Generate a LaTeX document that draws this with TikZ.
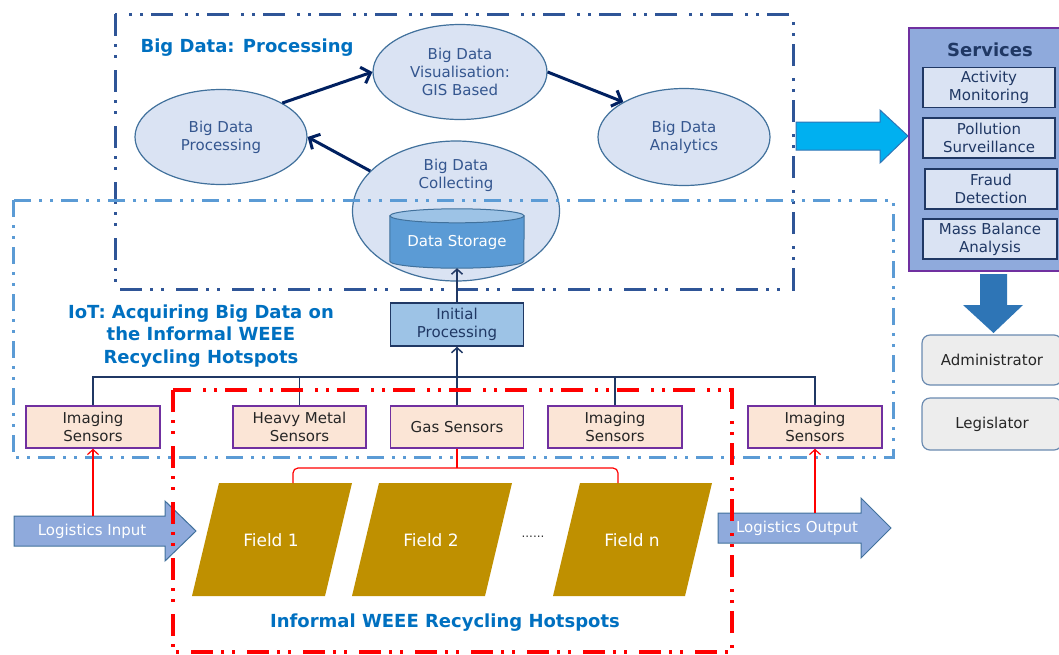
\documentclass[tikz,border=0pt]{standalone}
\usepackage{fontspec}
\setmainfont{DejaVu Sans}
\usetikzlibrary{arrows.meta,shapes.geometric}
\definecolor{bdblue}{HTML}{2F5597}
\definecolor{iotblue}{HTML}{5B9BD5}
\definecolor{ttlblue}{HTML}{0070C0}
\definecolor{ellfill}{HTML}{DAE3F3}
\definecolor{elldraw}{HTML}{41719C}
\definecolor{elltext}{HTML}{34568F}
\definecolor{navy}{HTML}{002060}
\definecolor{dnavy}{HTML}{203864}
\definecolor{sensfill}{HTML}{FBE5D6}
\definecolor{purp}{HTML}{7030A0}
\definecolor{gold}{HTML}{BF9000}
\definecolor{logfill}{HTML}{8FAADC}
\definecolor{cyanarrow}{HTML}{00B0F0}
\definecolor{midblue}{HTML}{2E75B6}
\definecolor{cylbody}{HTML}{5B9BD5}
\definecolor{cyltop}{HTML}{9DC3E6}
\definecolor{greyfill}{HTML}{EDEDED}
\definecolor{greydraw}{HTML}{6A8AB0}
\begin{document}
\begin{tikzpicture}[x=1pt,y=-1pt,font=\fontsize{15}{18}\selectfont,
  ddot/.style={line width=3pt,dash pattern=on 22pt off 8pt on 3pt off 8pt on 3pt off 12pt},
  ddotb/.style={line width=3pt,dash pattern=on 17pt off 8pt on 3pt off 8pt on 3pt off 8pt},
  ttl/.style={font=\fontsize{18}{22.5}\selectfont\bfseries,text=ttlblue},
  ell/.style={ellipse,draw=elldraw,fill=ellfill,line width=1.2pt,text=elltext,align=center,inner sep=0pt},
  bigarr/.style={draw=navy,line width=3pt,-{Straight Barb[length=8pt,width=17pt]}},
  thinarr/.style={draw=dnavy,line width=1.5pt,-{Straight Barb[length=5pt,width=11pt]}},
  busline/.style={draw=dnavy,line width=1.2pt},
  redarr/.style={draw=red,line width=1.2pt,-{Straight Barb[length=5pt,width=11pt]}},
  redthin/.style={draw=red,line width=1.2pt},
  sens/.style={draw=purp,fill=sensfill,line width=1.5pt,minimum width=134pt,minimum height=42pt,align=center,inner sep=0pt,text=black!85},
  svitem/.style={draw=dnavy,fill=ellfill,line width=1.6pt,minimum height=40pt,align=center,inner sep=0pt,text=dnavy},
  person/.style={draw=greydraw,fill=greyfill,line width=1.2pt,rounded corners=8pt,minimum width=140pt,align=center,text=black!85},
  fieldtxt/.style={text=white,font=\fontsize{17}{20}\selectfont},
  blockarr/.style={line width=1pt}]
\useasboundingbox (0,0) rectangle (1059,654);

% Big Data ellipses
\node[ell,minimum width=172pt,minimum height=95pt] (proc) at (221,137) {Big Data\\Processing};
\node[ell,minimum width=174pt,minimum height=95pt] (vis) at (460,72) {Big Data\\Visualisation:\\GIS Based};
\node[ell,minimum width=172pt,minimum height=97pt] (ana) at (684,137) {Big Data\\Analytics};
\node[ell,minimum width=207pt,minimum height=140pt] (coll) at (456,211) {};
\node[text=elltext,align=center] (colltxt) at (456,175) {Big Data\\Collecting};

% Data storage cylinder
\node[minimum width=134pt,minimum height=59pt,inner sep=0pt] (ds) at (457,238.5) {};
\filldraw[fill=cylbody,draw=elldraw,line width=1pt] ([yshift=-7pt]ds.north west) -- ([yshift=7pt]ds.south west)
  arc[start angle=180,end angle=360,x radius=67pt,y radius=7pt] -- ([yshift=-7pt]ds.north east) -- cycle;
\filldraw[fill=cyltop,draw=elldraw,line width=1pt] ([yshift=-7pt]ds.north) ellipse[x radius=67pt,y radius=7pt];
\node[text=white] (dstxt) at ([yshift=-4pt]ds.center) {Data Storage};

\draw[bigarr] (proc.29) -- (vis.180);
\draw[bigarr] (vis.0) -- (ana.150);
\draw[bigarr] (coll.155) -- (proc.0);

% Frames
\draw[ddot,bdblue] (115,14) rectangle (793,289);
\node[ttl,anchor=west] (bdt) at (137,48) {Big Data: Processing};
\draw[ddotb,iotblue] (13,200) rectangle (893,457);
\node[ttl,align=center] (iott) at (201,336) {IoT: Acquiring Big Data on\\the Informal WEEE\\Recycling Hotspots};

% Initial processing and sensors
\node[draw=dnavy,fill=cyltop,line width=1.5pt,minimum width=133pt,minimum height=43pt,align=center,inner sep=0pt,text=dnavy] (init) at (457,324.5) {Initial\\Processing};
\node[sens] (limg) at (93,427) {Imaging\\Sensors};
\node[sens,minimum width=133pt] (heavy) at (299.5,427) {Heavy Metal\\Sensors};
\node[sens,minimum width=133pt] (gas) at (457,427) {Gas Sensors};
\node[sens] (mimg) at (615,427) {Imaging\\Sensors};
\node[sens] (rimg) at (815,427) {Imaging\\Sensors};

\coordinate (bus) at (93,377);
\draw[busline] (limg.north) -- (limg.north |- bus) -- (rimg.north |- bus) -- (rimg.north);
\draw[busline] (heavy.north) -- (heavy.north |- bus);
\draw[busline] (mimg.north) -- (mimg.north |- bus);
\draw[thinarr] (gas.north) -- (init.south);
\draw[thinarr] (init.north) -- (ds.south);

% Fields
\fill[gold] (219,483) -- (352,483) -- (325,596) -- (192,596) -- cycle;
\fill[gold] (379,483) -- (512,483) -- (485,596) -- (352,596) -- cycle;
\fill[gold] (580,483) -- (712,483) -- (685,596) -- (553,596) -- cycle;
\node[fieldtxt] (f1) at (271,540) {Field 1};
\node[fieldtxt] (f2) at (431,540) {Field 2};
\node[fieldtxt] (fn) at (632,540) {Field n};
\node[font=\fontsize{12}{14}\selectfont,text=black!80] (dots) at (533,537) {......};

% Bracket
\coordinate (bl) at (293,483);
\coordinate (br) at (618,483);
\coordinate (brk) at (293,468);
\draw[redthin,rounded corners=5pt] (bl) -- (brk) -- (br |- brk) -- (br);
\draw[redthin] (gas.south) -- (gas.south |- brk);

% Logistics arrows
\filldraw[fill=logfill,draw=elldraw,blockarr] (14,516) -- (165,516) -- (165,501) -- (196,531) -- (165,561) -- (165,546) -- (14,546) -- cycle;
\node[text=white] (lin) at (92,531) {Logistics Input};
\filldraw[fill=logfill,draw=elldraw,blockarr] (718,513) -- (861,513) -- (861,498) -- (891,528) -- (861,558) -- (861,543) -- (718,543) -- cycle;
\node[text=white] (lout) at (797,528) {Logistics Output};
\coordinate (linTop) at (93,516);
\coordinate (loutTop) at (815,513);
\draw[redarr] (linTop) -- (limg.south);
\draw[redarr] (loutTop) -- (rimg.south);

% Red frame
\draw[ddot,red,line width=3.2pt] (173,390) rectangle (732,652);
\node[ttl] (hott) at (445,623) {Informal WEEE Recycling Hotspots};

% Big arrow to services
\filldraw[fill=cyanarrow,draw=midblue,blockarr] (796,122) -- (880,122) -- (880,110) -- (908,136) -- (880,163) -- (880,150) -- (796,150) -- cycle;

% Services
\node[draw=purp,fill=logfill,line width=1.5pt,minimum width=152pt,minimum height=243pt,inner sep=0pt] (svc) at (985,149.5) {};
\node[font=\fontsize{18}{22}\selectfont\bfseries,text=dnavy] (svct) at (990,50) {Services};
\node[svitem,minimum width=132pt] (act) at (989,87.5) {Activity\\Monitoring};
\node[svitem,minimum width=132pt] (pol) at (989,138) {Pollution\\Surveillance};
\node[svitem,minimum width=132pt] (fraud) at (991,189) {Fraud\\Detection};
\node[svitem,minimum width=134pt] (mass) at (990,239) {Mass Balance\\Analysis};

\fill[midblue] (980,274) -- (1007,274) -- (1007,305) -- (1023,305) -- (993.5,333) -- (963,305) -- (980,305) -- cycle;

\node[person,minimum height=50pt] (adm) at (992,360) {Administrator};
\node[person,minimum height=52pt] (leg) at (992,424) {Legislator};
\end{tikzpicture}
\end{document}
